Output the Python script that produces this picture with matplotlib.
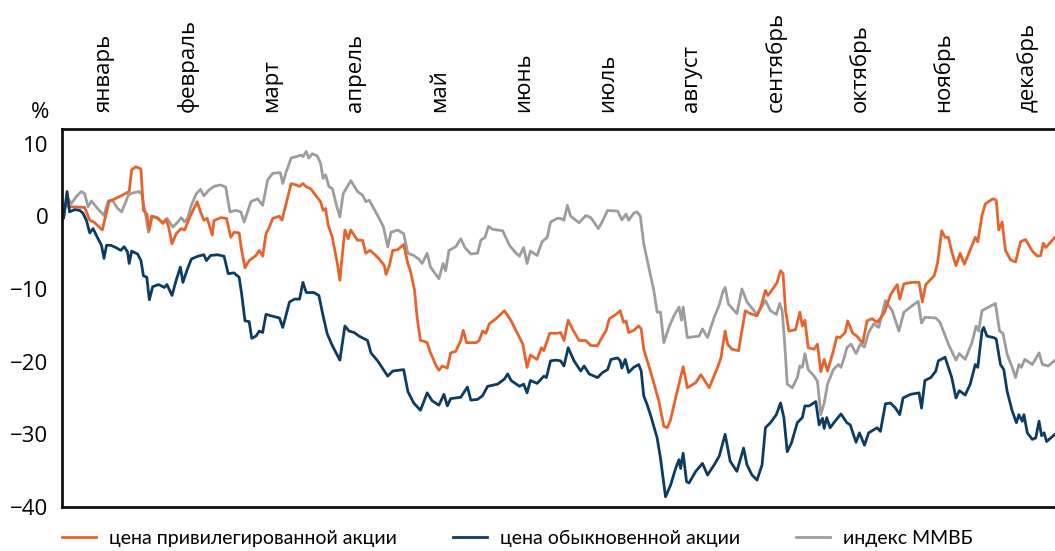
import numpy as np
import matplotlib.pyplot as plt

plt.rcParams['font.family'] = ['Open Sans', 'DejaVu Sans']

months = ['январь', 'февраль', 'март', 'апрель', 'май', 'июнь',
          'июль', 'август', 'сентябрь', 'октябрь', 'ноябрь', 'декабрь']

# x in months from the start of the year, y in %
priv_x = [0.02, 0.11, 0.27, 0.33, 0.38, 0.48, 0.56, 0.72, 0.80, 0.83, 0.88, 0.94, 0.97, 1.01,
          1.04, 1.07, 1.14, 1.20, 1.24, 1.27, 1.31, 1.36, 1.42, 1.46, 1.52, 1.61, 1.65, 1.69,
          1.73, 1.79, 1.81, 1.89, 1.96, 2.01, 2.05, 2.11, 2.14, 2.18, 2.23, 2.31, 2.35, 2.39,
          2.43, 2.47, 2.51, 2.59, 2.62, 2.67, 2.73, 2.79, 2.83, 2.87, 2.91, 2.96, 3.02, 3.08,
          3.11, 3.14, 3.17, 3.22, 3.28, 3.31, 3.34, 3.37, 3.41, 3.44, 3.52, 3.58, 3.62, 3.67,
          3.72, 3.78, 3.84, 3.86, 3.90, 3.94, 4.00, 4.07, 4.12, 4.15, 4.20, 4.23, 4.27, 4.31,
          4.35, 4.39, 4.45, 4.49, 4.53, 4.59, 4.63, 4.69, 4.75, 4.78, 4.82, 4.93, 4.97, 5.01,
          5.05, 5.09, 5.17, 5.27, 5.35, 5.45, 5.49, 5.54, 5.58, 5.66, 5.71, 5.74, 5.81, 5.90,
          5.94, 5.98, 6.03, 6.08, 6.16, 6.24, 6.30, 6.38, 6.44, 6.48, 6.52, 6.60, 6.65, 6.69,
          6.72, 6.75, 6.81, 6.87, 6.90, 6.93, 7.01, 7.11, 7.17, 7.21, 7.25, 7.31, 7.40, 7.45,
          7.55, 7.61, 7.65, 7.71, 7.81, 7.85, 7.90, 7.93, 7.98, 8.06, 8.14, 8.20, 8.28, 8.33,
          8.38, 8.41, 8.48, 8.52, 8.56, 8.59, 8.62, 8.66, 8.74, 8.79, 8.82, 8.85, 8.89, 8.96,
          9.00, 9.04, 9.08, 9.12, 9.19, 9.23, 9.27, 9.33, 9.36, 9.42, 9.47, 9.51, 9.54, 9.59,
          9.65, 9.71, 9.76, 9.80, 9.87, 9.95, 9.98, 10.03, 10.13, 10.21, 10.25, 10.29, 10.39,
          10.43, 10.48, 10.52, 10.56, 10.60, 10.65, 10.70, 10.75, 10.80, 10.88, 10.91, 10.96,
          11.00, 11.09, 11.13, 11.16, 11.20, 11.24, 11.30, 11.36, 11.42, 11.48, 11.56, 11.62,
          11.66, 11.69, 11.72, 11.83]
priv_y = [1.5, 1.3, 1.2, -0.55, -0.8, -1.9, 2.0, 2.9, 3.4, 6.4, 6.8, 6.5, 0.8, 0.3,
          -1.9, 0.0, -0.3, -1.0, -0.5, -1.5, -3.8, -2.4, -1.7, -1.9, -0.2, 2.0, 0.6, -0.55,
          -0.3, -2.6, -0.6, -0.2, -0.3, -2.9, -2.2, -2.3, -4.7, -7.1, -6.1, -5.4, -4.7, -5.5,
          -2.4, -1.5, -0.3, 0.0, -0.55, 1.75, 4.5, 4.3, 4.1, 4.5, 4.05, 3.8, 2.9, 2.0,
          0.8, 1.06, -1.2, -2.9, -6.5, -8.8, -5.2, -1.9, -3.1, -1.9, -3.3, -3.3, -5.1, -4.7,
          -5.2, -5.9, -6.8, -8.0, -6.8, -4.7, -4.6, -3.9, -6.5, -7.5, -10.2, -13.9, -17.1, -17.2,
          -17.4, -18.8, -20.4, -21.2, -20.6, -20.9, -18.8, -18.6, -17.1, -15.7, -17.4, -17.4, -17.1, -15.8,
          -16.1, -14.8, -14.1, -13.0, -14.4, -16.7, -17.6, -20.8, -19.1, -19.7, -18.1, -18.5, -16.1, -16.1,
          -16.0, -17.1, -14.3, -15.5, -17.1, -17.1, -17.8, -17.8, -16.5, -15.8, -14.1, -13.5, -13.0, -14.6,
          -14.4, -16.0, -15.7, -15.1, -15.5, -18.3, -21.3, -25.4, -28.9, -29.1, -28.0, -25.0, -20.7, -23.6,
          -22.9, -21.8, -22.5, -23.6, -20.8, -19.5, -15.8, -17.6, -18.3, -18.5, -13.0, -13.4, -13.7, -12.3,
          -10.2, -10.9, -9.8, -9.1, -7.5, -7.9, -13.0, -15.8, -15.6, -13.2, -15.1, -14.3, -18.1, -18.3,
          -17.6, -21.4, -19.7, -21.3, -18.5, -16.6, -16.7, -16.0, -14.4, -16.1, -16.5, -17.1, -17.4, -14.4,
          -14.1, -14.6, -13.9, -13.2, -10.8, -9.4, -11.4, -9.3, -9.1, -9.1, -11.8, -9.4, -8.2,
          -6.5, -2.0, -2.9, -2.9, -4.9, -6.8, -5.1, -6.6, -5.2, -2.9, -3.5, 0.1,
          1.7, 2.4, 2.2, -1.9, -0.8, -4.7, -6.0, -6.3, -3.5, -3.2, -4.8, -5.5,
          -5.4, -3.7, -4.3, -2.9]

ord_x = [0.02, 0.06, 0.09, 0.15, 0.21, 0.25, 0.29, 0.33, 0.37, 0.42, 0.47, 0.50, 0.53, 0.58,
         0.64, 0.70, 0.74, 0.78, 0.80, 0.83, 0.90, 0.94, 0.97, 1.01, 1.04, 1.08, 1.15, 1.22,
         1.25, 1.31, 1.36, 1.41, 1.44, 1.49, 1.54, 1.62, 1.69, 1.72, 1.77, 1.85, 1.93, 1.98,
         2.05, 2.11, 2.14, 2.18, 2.23, 2.26, 2.31, 2.35, 2.39, 2.43, 2.49, 2.59, 2.63, 2.71,
         2.77, 2.83, 2.87, 2.91, 3.00, 3.06, 3.11, 3.16, 3.22, 3.31, 3.37, 3.42, 3.48, 3.54,
         3.64, 3.68, 3.76, 3.88, 3.94, 4.07, 4.12, 4.19, 4.27, 4.35, 4.41, 4.49, 4.55, 4.59,
         4.63, 4.75, 4.83, 4.87, 4.95, 5.01, 5.07, 5.19, 5.27, 5.31, 5.35, 5.45, 5.50, 5.54,
         5.58, 5.66, 5.74, 5.77, 5.82, 5.88, 5.94, 5.98, 6.03, 6.10, 6.18, 6.22, 6.28, 6.38,
         6.44, 6.50, 6.54, 6.62, 6.65, 6.67, 6.71, 6.75, 6.81, 6.87, 6.90, 6.93, 6.97, 7.01,
         7.09, 7.13, 7.19, 7.25, 7.31, 7.35, 7.37, 7.40, 7.44, 7.47, 7.55, 7.63, 7.69, 7.77,
         7.83, 7.90, 7.96, 8.04, 8.12, 8.16, 8.22, 8.28, 8.34, 8.38, 8.44, 8.51, 8.56, 8.60,
         8.64, 8.69, 8.76, 8.82, 8.85, 8.90, 8.98, 9.02, 9.06, 9.08, 9.11, 9.15, 9.21, 9.28,
         9.35, 9.39, 9.46, 9.50, 9.56, 9.61, 9.71, 9.75, 9.81, 9.87, 9.93, 9.98, 10.02, 10.11,
         10.21, 10.24, 10.28, 10.35, 10.41, 10.44, 10.52, 10.60, 10.65, 10.69, 10.76, 10.82, 10.88, 10.91,
         10.96, 10.98, 11.02, 11.10, 11.13, 11.18, 11.22, 11.26, 11.32, 11.37, 11.40, 11.44, 11.46, 11.50,
         11.56, 11.60, 11.64, 11.67, 11.70, 11.73, 11.83]
ord_y = [-0.2, 3.4, 0.6, 0.9, 0.8, 0.4, -0.55, -2.3, -1.7, -2.9, -4.0, -5.8, -4.0, -4.0,
         -4.3, -4.7, -4.2, -4.9, -6.5, -4.8, -5.2, -6.1, -8.2, -8.4, -11.5, -9.7, -9.4, -9.8,
         -9.4, -10.9, -8.8, -7.0, -9.1, -7.4, -5.9, -5.5, -5.3, -6.1, -5.4, -5.3, -5.5, -7.9,
         -7.8, -8.4, -10.7, -14.4, -14.5, -16.8, -16.5, -15.8, -16.0, -13.5, -13.7, -14.0, -15.3, -11.8,
         -11.4, -11.4, -9.1, -10.5, -10.5, -10.9, -13.7, -16.2, -17.8, -19.8, -15.1, -15.8, -16.0, -16.5,
         -17.1, -18.8, -19.9, -22.0, -21.3, -21.1, -24.1, -25.7, -26.7, -24.3, -25.4, -26.0, -24.5, -26.1,
         -25.1, -24.9, -23.5, -25.3, -25.2, -24.7, -23.4, -23.1, -22.4, -21.7, -22.6, -23.4, -23.1, -24.3,
         -22.6, -23.0, -22.0, -22.2, -19.9, -19.8, -19.9, -20.6, -18.1, -19.9, -21.3, -20.6, -21.7, -22.2,
         -21.5, -21.1, -19.7, -19.5, -19.9, -20.9, -19.7, -21.5, -20.8, -20.4, -21.3, -24.7, -25.9, -27.3,
         -30.5, -33.3, -38.6, -37.0, -34.7, -33.5, -34.7, -32.6, -36.5, -36.7, -35.1, -34.0, -35.6, -34.2,
         -33.0, -30.0, -33.7, -35.1, -31.9, -34.2, -35.6, -36.3, -34.2, -29.1, -28.4, -27.3, -25.7, -27.7,
         -32.4, -31.2, -28.4, -27.7, -26.1, -26.1, -25.5, -28.7, -27.8, -29.2, -27.7, -29.1, -28.2, -27.2,
         -28.4, -28.7, -31.1, -29.8, -31.5, -29.8, -29.1, -29.6, -25.8, -25.7, -26.4, -27.3, -25.0, -24.5,
         -24.3, -26.4, -22.6, -22.2, -21.3, -19.9, -19.4, -22.2, -25.0, -24.0, -24.6, -23.1, -20.4, -20.8,
         -15.8, -15.3, -16.5, -16.7, -16.9, -20.4, -21.1, -24.1, -26.8, -28.4, -27.3, -28.2, -27.3, -29.8,
         -30.7, -30.5, -28.2, -30.2, -29.8, -31.0, -30.0]

mmvb_x = [0.02, 0.06, 0.11, 0.17, 0.23, 0.27, 0.31, 0.35, 0.42, 0.50, 0.55, 0.60, 0.66, 0.71,
          0.76, 0.79, 0.84, 0.92, 0.95, 0.99, 1.03, 1.07, 1.14, 1.20, 1.25, 1.32, 1.38, 1.42,
          1.46, 1.50, 1.54, 1.60, 1.65, 1.69, 1.75, 1.81, 1.89, 1.95, 2.00, 2.07, 2.13, 2.17,
          2.21, 2.25, 2.33, 2.39, 2.45, 2.51, 2.60, 2.63, 2.67, 2.73, 2.79, 2.85, 2.87, 2.91,
          2.94, 2.98, 3.04, 3.08, 3.11, 3.14, 3.18, 3.22, 3.27, 3.31, 3.35, 3.44, 3.52, 3.58,
          3.62, 3.66, 3.76, 3.83, 3.88, 3.92, 4.00, 4.07, 4.12, 4.19, 4.25, 4.29, 4.35, 4.39,
          4.49, 4.54, 4.57, 4.61, 4.69, 4.75, 4.80, 4.87, 4.95, 4.99, 5.04, 5.08, 5.13, 5.25,
          5.33, 5.41, 5.45, 5.50, 5.54, 5.58, 5.66, 5.72, 5.78, 5.82, 5.90, 5.94, 5.98, 6.02,
          6.06, 6.16, 6.24, 6.30, 6.39, 6.44, 6.50, 6.62, 6.67, 6.72, 6.75, 6.81, 6.85, 6.89,
          6.93, 6.99, 7.05, 7.09, 7.13, 7.17, 7.23, 7.29, 7.35, 7.38, 7.40, 7.45, 7.51, 7.59,
          7.63, 7.69, 7.77, 7.83, 7.87, 7.90, 7.94, 8.04, 8.10, 8.16, 8.28, 8.38, 8.44, 8.51,
          8.55, 8.58, 8.61, 8.64, 8.70, 8.76, 8.79, 8.82, 8.85, 8.89, 8.96, 9.00, 9.04, 9.08,
          9.12, 9.19, 9.25, 9.28, 9.32, 9.35, 9.40, 9.46, 9.51, 9.56, 9.61, 9.67, 9.73, 9.81,
          9.89, 9.97, 10.03, 10.13, 10.20, 10.24, 10.28, 10.41, 10.46, 10.56, 10.65, 10.69, 10.76, 10.84,
          10.89, 10.92, 10.96, 11.04, 11.12, 11.17, 11.21, 11.26, 11.32, 11.36, 11.40, 11.43, 11.47, 11.56,
          11.64, 11.68, 11.75, 11.83]
mmvb_y = [0.0, 2.7, 1.75, 2.7, 3.4, 3.1, 1.3, 2.1, 1.1, 0.1, 2.1, 2.2, 1.1, 0.6,
          2.0, 2.9, 3.2, 3.4, 3.0, 0.6, -2.2, 0.0, -0.2, -0.9, -0.3, -1.5, -0.8, -0.2,
          -0.8, -0.2, 1.5, 3.1, 3.7, 2.8, 3.6, 4.1, 4.3, 4.0, 0.6, 0.8, 0.6, -0.8,
          0.6, 2.0, 2.4, 1.5, 5.0, 5.9, 6.0, 4.5, 6.1, 8.0, 8.2, 8.4, 8.2, 8.9,
          8.0, 8.6, 8.3, 7.3, 5.2, 5.7, 4.05, 3.8, 1.5, -0.1, 3.1, 4.9, 3.4, 2.9,
          2.0, 2.2, 0.1, -1.5, -4.2, -2.2, -1.9, -2.4, -5.1, -5.4, -5.9, -6.5, -5.1, -7.0,
          -8.6, -6.5, -7.5, -4.7, -4.2, -3.1, -4.3, -5.2, -5.1, -3.3, -2.9, -1.4, -1.8, -2.0,
          -4.0, -5.1, -5.5, -4.3, -6.5, -4.8, -5.4, -3.5, -2.9, -0.8, -0.3, -0.3, -0.55, 1.5,
          0.0, -0.9, 0.1, -0.2, -1.7, -0.65, 0.8, 0.7, -0.5, 0.3, -0.55, 0.4, 0.6, 0.0,
          -3.8, -7.0, -10.2, -13.2, -13.2, -17.4, -15.3, -13.7, -12.5, -14.3, -12.5, -16.7, -16.6, -16.5,
          -15.5, -16.7, -13.9, -12.2, -10.5, -9.8, -12.1, -13.4, -10.0, -11.8, -13.5, -11.6, -13.0, -13.5,
          -12.0, -13.0, -17.6, -23.1, -23.6, -22.2, -20.6, -20.8, -18.9, -21.1, -22.0, -22.7, -27.3, -25.7,
          -23.1, -21.1, -20.4, -20.8, -19.4, -18.1, -17.6, -18.9, -17.6, -18.0, -16.0, -14.8, -15.3, -11.6,
          -13.0, -15.8, -13.2, -12.3, -11.7, -14.7, -13.9, -14.0, -14.6, -17.6, -19.8, -18.9, -19.7, -17.4,
          -15.1, -15.8, -13.0, -12.5, -12.0, -15.8, -16.1, -19.0, -20.8, -22.2, -20.4, -20.8, -19.7, -20.4,
          -18.8, -20.4, -20.6, -19.8]

fig = plt.figure(figsize=(10.55, 5.51), dpi=100)
ax = fig.add_axes([0.0588, 0.0799, 0.9412, 0.686])

ax.plot(mmvb_x, mmvb_y, color='#9d9d9d', lw=2, solid_joinstyle='round', label='индекс ММВБ')
ax.plot(priv_x, priv_y, color='#e8632b', lw=2, solid_joinstyle='round',
        label='цена привилегированной акции')
ax.plot(ord_x, ord_y, color='#0c3b64', lw=2, solid_joinstyle='round',
        label='цена обыкновенной акции')

ax.set_xlim(0, 11.83)
ax.set_ylim(-40, 12)
ax.set_yticks([-40, -30, -20, -10, 0, 10])
ax.tick_params(axis='y', length=0, pad=10, labelsize=16)

ax.set_xticks(np.arange(12) + 0.5)
ax.set_xticklabels(months, rotation=90, fontsize=16)
ax.xaxis.tick_top()
ax.tick_params(axis='x', length=0, pad=12)

for side in ['left', 'top', 'bottom']:
    ax.spines[side].set_linewidth(2)
    ax.spines[side].set_color('#111111')
ax.spines['right'].set_visible(False)

fig.text(40 / 1055, 1 - 113 / 551, '%', ha='center', va='center', fontsize=16)

handles, labels = ax.get_legend_handles_labels()
order = [1, 2, 0]
fig.legend([handles[i] for i in order], [labels[i] for i in order],
           loc='center left', bbox_to_anchor=(0.0588, 1 - 538 / 551), ncol=3,
           frameon=False, prop={'family': 'Lato', 'size': 14},
           handlelength=1.75, handletextpad=0.65, columnspacing=2.9,
           borderpad=0, borderaxespad=0)

fig.savefig('out.png', dpi=100)
